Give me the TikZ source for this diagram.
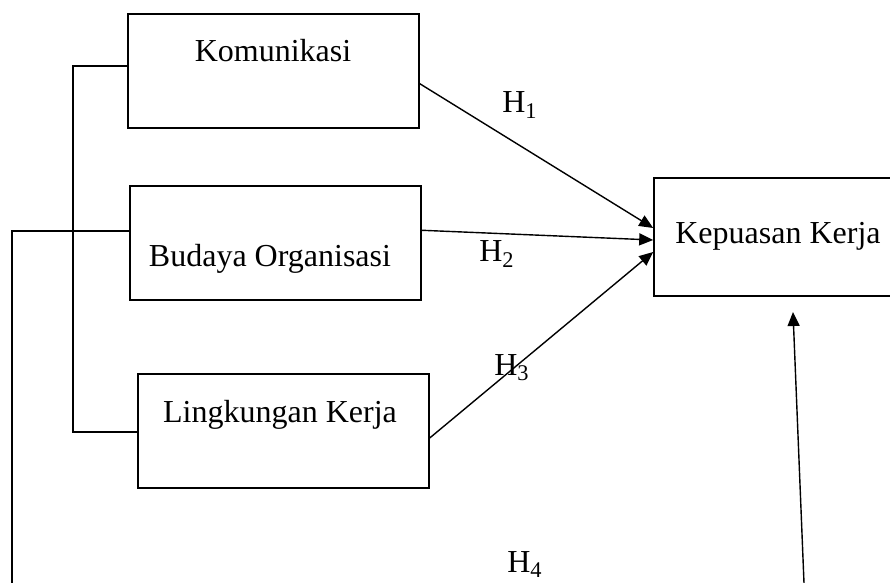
\documentclass[tikz,border=0pt]{standalone}
\usepackage{fontspec}
\setmainfont{Liberation Serif}
\usepackage{tikz}
\usetikzlibrary{calc,arrows.meta}
\tikzset{
  ar/.style={-{Triangle[length=7pt,width=6pt]},line width=0.7pt,black},
  ln/.style={line width=0.8pt,black},
  box/.style={draw,line width=0.8pt,minimum width=145.5pt,minimum height=57pt,inner sep=0pt},
  txt/.style={font=\fontsize{16}{19}\selectfont,anchor=base,inner sep=0pt},
  hyp/.style={font=\fontsize{16}{19}\selectfont,anchor=base,inner sep=0pt}
}

\begin{document}
\begin{tikzpicture}[x=0.5pt,y=-0.5pt]
\useasboundingbox (0,0) rectangle (890,583);
% variabel
\node[box] (kom) at (273.5,71) {};
\node[box] (bud) at (275.5,243) {};
\node[box] (lin) at (283.5,431) {};
\node[box,minimum width=124pt,minimum height=59pt] (kep) at (778,237) {};
\node[txt] (komt) at (273,62) {Komunikasi};
\node[txt] (budt) at (270,266) {Budaya Organisasi};
\node[txt] (lint) at (280,422) {Lingkungan Kerja};
\node[txt] (kept) at (778,243) {Kepuasan Kerja};
% garis penghubung kiri
\coordinate (b1) at (73,66);
\coordinate (b2) at (73,432);
\coordinate (l1) at (12,231);
\coordinate (l2) at (12,583);
\draw[ln] (kom.west |- b1) -- (b1) -- (b2) -- (lin.west |- b2);
\draw[ln] (bud.west |- l1) -- (l1) -- (l2);
% hipotesis
\draw[ar] ($(kom.north east)!0.61!(kom.south east)$) -- ($(kep.west)+(0,-9)$);
\draw[ar] ($(bud.north east)!0.39!(bud.south east)$) -- ($(kep.west)+(0,3)$);
\draw[ar] ($(lin.north east)!0.56!(lin.south east)$) -- ($(kep.west)+(0,15)$);
\coordinate (h4s) at (804,583);
\coordinate (h4e) at (793,312);
\draw[ar] (h4s) -- (h4e);
\node[hyp] (h1) at (520,113) {H\textsubscript{1}};
\node[hyp] (h2) at (497,262) {H\textsubscript{2}};
\node[hyp] (h3) at (512,375) {H\textsubscript{3}};
\node[hyp] (h4) at (525,572) {H\textsubscript{4}};
\end{tikzpicture}
\end{document}
